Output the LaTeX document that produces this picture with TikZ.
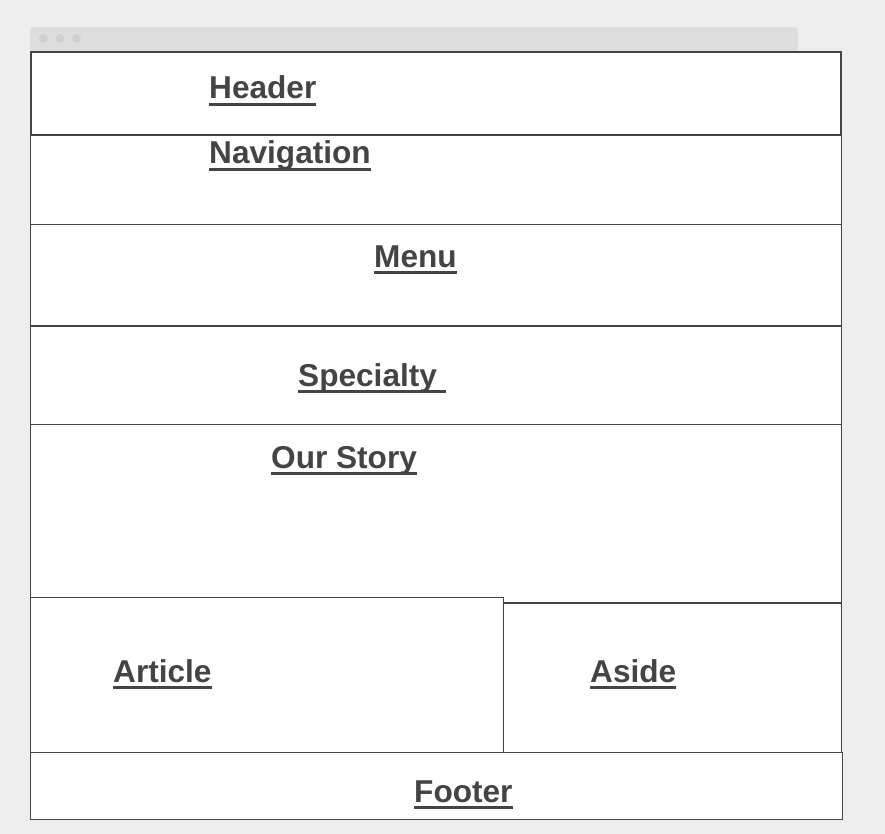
\documentclass[tikz,border=0pt]{standalone}
\usepackage{fontspec}
\setmainfont{Liberation Sans}
\definecolor{bgc}{HTML}{EEEEEE}
\definecolor{barc}{HTML}{DDDDDD}
\definecolor{dotc}{HTML}{CFCFCF}
\definecolor{ink}{HTML}{444444}
\newcommand{\ulabel}[1]{\setbox0\hbox{#1}\rlap{\rule[-6.7pt]{\wd0}{3pt}}\box0}
\tikzset{
  box/.style={draw=ink, fill=white, line width=1pt, anchor=north west, inner sep=0pt, outer sep=0pt},
  lbl/.style={anchor=base west, inner sep=0pt, text=ink, font=\fontsize{31.6}{38}\selectfont\bfseries},
  dot/.style={circle, fill=dotc, minimum size=8.6pt, inner sep=0pt, draw=none}
}
\begin{document}
\begin{tikzpicture}[x=1pt,y=-1pt]
\fill[bgc] (0,0) rectangle (885,834);
\useasboundingbox (0,0) rectangle (885,834);
% browser bar
\node[fill=barc, rounded corners=4pt, anchor=north west, minimum width=768pt, minimum height=26pt, inner sep=0pt] (bar) at (30,27) {};
\node[dot] (d1) at (43.3,38.3) {};
\node[dot] (d2) at (60,38.3) {};
\node[dot] (d3) at (76.5,38.3) {};
% boxes
\node[box, minimum width=810.5pt, minimum height=90pt] (nav) at (30.5,135) {};
\node[box, minimum width=810.5pt, minimum height=101pt] (menu) at (30.5,225) {};
\node[box, minimum width=810.5pt, minimum height=98pt] (spec) at (30.5,326) {};
\node[box, minimum width=810.5pt, minimum height=178pt] (story) at (30.5,424) {};
\node[box, minimum width=338pt, minimum height=149pt] (aside) at (503,603) {};
\node[box, minimum width=472.5pt, minimum height=155pt] (article) at (30.5,597) {};
\node[box, minimum width=811.5pt, minimum height=67pt] (footer) at (30.5,752) {};
\node[box, line width=2pt, minimum width=810pt, minimum height=83pt] (header) at (31,52) {};
\draw[ink, line width=2pt] (menu.south west) -- (menu.south east);
% labels
\node[lbl] (tHeader) at (209,99) {\ulabel{Header}};
\node[lbl] (tNav) at (209,164) {\ulabel{Navigation}};
\node[lbl] (tMenu) at (374,267) {\ulabel{Menu}};
\node[lbl] (tSpec) at (298,386) {\ulabel{Specialty\ }};
\node[lbl] (tStory) at (271,468) {\ulabel{Our Story}};
\node[lbl] (tArticle) at (113,682) {\ulabel{Article}};
\node[lbl] (tAside) at (590,682) {\ulabel{Aside}};
\node[lbl] (tFooter) at (414,802) {\ulabel{Footer}};
\end{tikzpicture}
\end{document}
